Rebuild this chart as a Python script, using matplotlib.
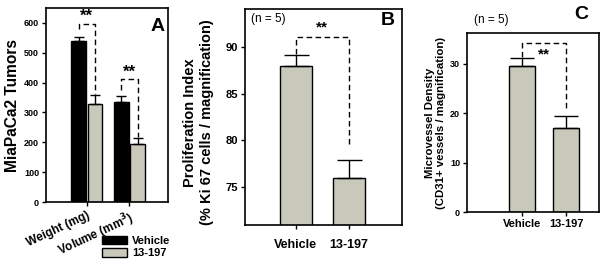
import matplotlib
matplotlib.use("Agg")
import matplotlib.pyplot as plt
import numpy as np

plt.rcParams['font.family'] = ['Liberation Sans', 'DejaVu Sans']
plt.rcParams['font.weight'] = 'bold'

# Panel A data
a_groups = ["Weight (mg)", "Volume (mm$^3$)"]
a_vehicle = [538, 335]
a_vehicle_err = [14, 20]
a_drug = [328, 193]
a_drug_err = [32, 22]
a_ticks = [0, 100, 200, 300, 400, 500, 600]

# Panel B data
b_cats = ["Vehicle", "13-197"]
b_vals = [88.0, 76.0]
b_err = [1.2, 1.85]
b_ticks = [75, 80, 85, 90]

# Panel C data
c_cats = ["Vehicle", "13-197"]
c_vals = [29.5, 17.0]
c_err = [1.6, 2.5]
c_ticks = [0, 10, 20, 30]

BLACK = "#000000"
GRAY = "#c9c9bb"

fig = plt.figure(figsize=(6.02, 2.62), dpi=100)

def style(ax, tsize):
    for s in ax.spines.values():
        s.set_linewidth(1.2)
    ax.tick_params(direction='out', length=3, width=1, labelsize=tsize, pad=2)

def bracket(ax, x1, x2, ytop, yl, yr, lw=1.0):
    ax.plot([x1, x1, x2, x2], [yl, ytop, ytop, yr], color='black', lw=lw,
            ls=(0, (4, 2.5)), solid_capstyle='butt')

# ---------- Panel A ----------
axA = fig.add_axes([46/602, 1-202/262, 122/602, 194/262])
style(axA, 6.5)
x = np.arange(len(a_groups))
w = 0.34
axA.bar(x - w/2 - 0.02, a_vehicle, w, color=BLACK, edgecolor='black', lw=1, label="Vehicle",
        yerr=[[0]*2, a_vehicle_err], error_kw=dict(ecolor='black', capsize=3.6, elinewidth=1, capthick=1))
axA.bar(x + w/2 + 0.02, a_drug, w, color=GRAY, edgecolor='black', lw=1, label="13-197",
        yerr=[[0]*2, a_drug_err], error_kw=dict(ecolor='black', capsize=3.6, elinewidth=1, capthick=1))
axA.set_xlim(-0.95, 1.9)
axA.set_ylim(0, 650)
axA.set_yticks(a_ticks)
axA.set_xticks(x)
axA.set_xticklabels(a_groups, rotation=25, ha='right', rotation_mode='anchor', fontsize=8.5)
axA.set_ylabel("MiaPaCa2 Tumors", fontsize=11.2, fontweight='bold', labelpad=3)
bracket(axA, x[0] - w/2 - 0.02, x[0] + w/2 + 0.02, 598, 578, 362)
axA.text(x[0], 598, "**", ha='center', va='bottom', fontsize=12)
bracket(axA, x[1] - w/2 - 0.02, x[1] + w/2 + 0.02, 412, 375, 217)
axA.text(x[1], 410, "**", ha='center', va='bottom', fontsize=12)
axA.text(0.97, 0.95, "A", transform=axA.transAxes, ha='right', va='top', fontsize=14, fontweight='bold')
leg = axA.legend(loc='upper left', bbox_to_anchor=(0.42, -0.15), frameon=False, fontsize=8,
                 handlelength=2.3, handleheight=0.85, labelspacing=0.2, borderaxespad=0, handletextpad=0.45)

# ---------- Panel B ----------
axB = fig.add_axes([245/602, 1-225/262, 157/602, 216/262])
style(axB, 8)
xb = np.arange(len(b_cats))
axB.bar(xb, b_vals, 0.6, color=GRAY, edgecolor='black', lw=1,
        yerr=[[0]*2, b_err], error_kw=dict(ecolor='black', capsize=9, elinewidth=1, capthick=1))
axB.set_xlim(-0.95, 2.0)
axB.set_ylim(70.9, 94.1)
axB.set_yticks(b_ticks)
axB.set_xticks(xb)
axB.set_xticklabels(b_cats, fontsize=9)
axB.tick_params(axis='x', pad=7)
axB.set_ylabel("Proliferation Index\n(% Ki 67 cells / magnification)", fontsize=10.5,
               fontweight='bold', labelpad=6, linespacing=1.2)
axB.yaxis.set_label_coords(-0.2, 0.475)
bracket(axB, xb[0], xb[1], 91.07, 89.3, 79.6)
axB.text(0.5, 91.4, "**", ha='center', va='bottom', fontsize=11)
axB.text(0.04, 0.98, "(n = 5)", transform=axB.transAxes, ha='left', va='top', fontsize=8.5, fontweight='normal')
axB.text(0.955, 0.985, "B", transform=axB.transAxes, ha='right', va='top', fontsize=14, fontweight='bold')

# ---------- Panel C ----------
axC = fig.add_axes([467/602, 1-212/262, 132/602, 179/262])
style(axC, 6.5)
xc = np.arange(len(c_cats))
axC.bar(xc, c_vals, 0.6, color=GRAY, edgecolor='black', lw=1,
        yerr=[[0]*2, c_err], error_kw=dict(ecolor='black', capsize=8.5, elinewidth=1, capthick=1))
axC.set_xlim(-1.25, 1.75)
axC.set_ylim(0, 36.2)
axC.set_yticks(c_ticks)
axC.set_xticks(xc)
axC.set_xticklabels(c_cats, fontsize=8)
axC.set_ylabel("Microvessel Density\n(CD31+ vessels / magnification)", fontsize=8.2,
               fontweight='bold', labelpad=3, linespacing=1.15)
bracket(axC, xc[0], xc[1], 34.1, 31.4, 20.8)
axC.text(0.5, 33.3, "**", ha='center', va='top', fontsize=11)
axC.text(0.05, 1.04, "(n = 5)", transform=axC.transAxes, ha='left', va='bottom', fontsize=8.5, fontweight='normal')
axC.text(0.917, 1.078, "C", transform=axC.transAxes, ha='right', va='baseline', fontsize=14, fontweight='bold')

fig.savefig("out.png", dpi=100)
